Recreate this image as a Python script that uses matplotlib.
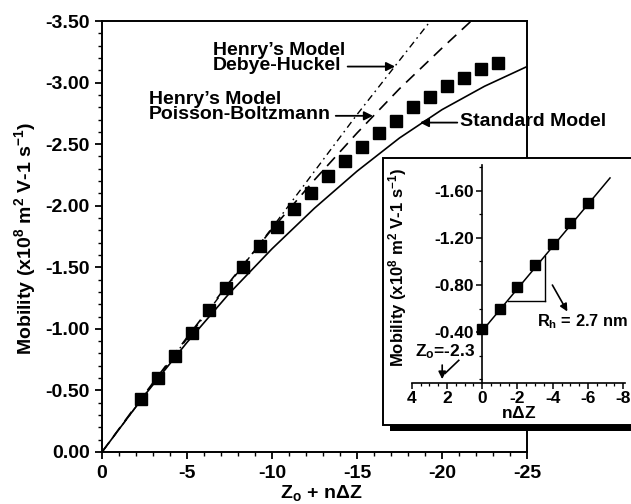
import numpy as np
import matplotlib
matplotlib.use("Agg")
import matplotlib.pyplot as plt
from matplotlib.patches import Rectangle
from matplotlib.ticker import MultipleLocator

plt.rcParams['font.family'] = ['Liberation Sans', 'DejaVu Sans']
plt.rcParams['font.weight'] = 'bold'
plt.rcParams['mathtext.fontset'] = 'custom'
plt.rcParams['mathtext.rm'] = 'Liberation Sans:bold'
plt.rcParams['mathtext.bf'] = 'Liberation Sans:bold'
plt.rcParams['mathtext.default'] = 'rm'

# ---- data ----
charge = [-2.3, -3.3, -4.3, -5.3, -6.3, -7.3, -8.3, -9.3, -10.3, -11.3, -12.3,
          -13.3, -14.3, -15.3, -16.3, -17.3, -18.3, -19.3, -20.3, -21.3, -22.3, -23.3]
mobility = [-0.43, -0.60, -0.78, -0.97, -1.15, -1.33, -1.50, -1.67, -1.83, -1.97, -2.10,
            -2.24, -2.36, -2.48, -2.59, -2.69, -2.80, -2.88, -2.97, -3.04, -3.11, -3.16]

model_x = [0, -2.5, -5, -7.5, -10, -12.5, -15, -17.5, -20, -22.5, -25]
standard_y = [0, -0.46, -0.89, -1.29, -1.65, -1.98, -2.28, -2.55, -2.78, -2.97, -3.13]
pb_y = [0, -0.47, -0.93, -1.38, -1.81, -2.21, -2.59, -2.95, -3.28, -3.60, -3.92]
dh_y = [0, -0.46, -0.92, -1.37, -1.82, -2.28, -2.74, -3.18, -3.62, -4.06, -4.50]

inset_n = [0, -1, -2, -3, -4, -5, -6]
inset_mob = mobility[:7]
fit_n = [0, -7.25]
fit_mob = [-0.41, -1.71]

main_xticks = [0, -5, -10, -15, -20, -25]
main_yticks = [0.0, -0.5, -1.0, -1.5, -2.0, -2.5, -3.0, -3.5]
inset_xticks = [4, 2, 0, -2, -4, -6, -8]
inset_yticks = [-0.4, -0.8, -1.2, -1.6]

W, H = 631, 504
fig = plt.figure(figsize=(W / 100, H / 100), dpi=100)

def fx(px):
    return px / W

def fy(py):
    return 1 - py / H

# ---- main axes ----
ax = fig.add_axes([fx(102), fy(452), fx(527) - fx(102), fy(21) - fy(452)])
ax.set_xlim(0, -25)
ax.set_ylim(0, -3.5)

ax.plot(model_x, standard_y, color='black', lw=1.2, solid_capstyle='butt')
ax.plot(model_x, pb_y, color='black', lw=1.2, dashes=(7, 4.5))
ax.plot(model_x, dh_y, color='black', lw=1.0, dashes=(5, 3, 1.2, 3))
ax.plot(charge, mobility, 's', color='black', ms=8.5, ls='none')

ax.set_xticks(main_xticks)
ax.set_xticklabels([f"{v:g}" for v in main_xticks])
ax.set_yticks(main_yticks)
ax.set_yticklabels([f"{abs(v):.2f}" if v == 0 else f"{v:.2f}" for v in main_yticks])
ax.xaxis.set_minor_locator(MultipleLocator(1))
ax.yaxis.set_minor_locator(MultipleLocator(0.1))
ax.tick_params(which='major', direction='out', length=5, width=1.3, labelsize=14, pad=4)
ax.tick_params(which='minor', direction='out', length=3, width=1.0)
for s in ax.spines.values():
    s.set_linewidth(1.4)
for lab in ax.get_xticklabels() + ax.get_yticklabels():
    lab.set_fontweight('bold')

ax.set_xlabel(r"Z$_\mathregular{o}$ + n$\Delta$Z", fontsize=14, fontweight='bold')
ax.xaxis.set_label_coords((fx(321) - fx(102)) / (fx(527) - fx(102)), (fy(493) - fy(452)) / (fy(21) - fy(452)))
ax.xaxis.label.set_va('center')
ax.set_ylabel(r"Mobility (x10$^{8}$ m$^{2}$ V-1 s$^{-1}$)", fontsize=14, fontweight='bold')
ax.yaxis.set_label_coords((fx(25) - fx(102)) / (fx(527) - fx(102)), (fy(238) - fy(452)) / (fy(21) - fy(452)))
ax.yaxis.label.set_va('center')

arrow_kw = dict(arrowstyle='-|>', color='black', lw=1.3, mutation_scale=13, shrinkA=0, shrinkB=0)

ax.text(-6.53, -3.20, "Henry\u2019s Model\nDebye-Huckel", fontsize=14, fontweight='bold',
        ha='left', va='center', linespacing=0.82)
ax.annotate("", xy=(-17.24, -3.13), xytext=(-14.45, -3.13), arrowprops=arrow_kw)

ax.text(-2.76, -2.80, "Henry\u2019s Model\nPoisson-Boltzmann", fontsize=14, fontweight='bold',
        ha='left', va='center', linespacing=0.82)
ax.annotate("", xy=(-15.94, -2.73), xytext=(-13.75, -2.73), arrowprops=arrow_kw)

ax.text(-21.06, -2.68, "Standard Model", fontsize=14, fontweight='bold',
        ha='left', va='center', clip_on=False)
ax.annotate("", xy=(-18.7, -2.675), xytext=(-20.9, -2.675), arrowprops=arrow_kw)

# ---- inset box with shadow ----
shadow = Rectangle((fx(390), fy(431)), fx(660) - fx(390), fy(419) - fy(431),
                   transform=fig.transFigure, facecolor='black', edgecolor='none', zorder=1)
box = Rectangle((fx(383), fy(425)), fx(660) - fx(383), fy(158) - fy(425),
                transform=fig.transFigure, facecolor='white', edgecolor='black', lw=1.4, zorder=1.5)
fig.patches.extend([shadow, box])

# ---- inset axes ----
ax2 = fig.add_axes([fx(411.7), fy(382.7), fx(625) - fx(411.7), fy(165) - fy(382.7)], zorder=2)
ax2.patch.set_alpha(0)
ax2.set_xlim(4, -8.1)
ax2.set_ylim(0.03, -1.82)
ax2.spines['top'].set_visible(False)
ax2.spines['right'].set_visible(False)
ax2.spines['left'].set_position(('data', 0))
ax2.spines['left'].set_linewidth(1.2)
ax2.spines['bottom'].set_linewidth(1.2)

ax2.plot(fit_n, fit_mob, color='black', lw=1.1)
ax2.plot(inset_n, inset_mob, 's', color='black', ms=7.5, ls='none')

ax2.set_xticks(inset_xticks)
ax2.set_xticklabels([f"{v:g}" for v in inset_xticks])
ax2.set_yticks(inset_yticks)
ax2.set_yticklabels([f"{v:.2f}" for v in inset_yticks])
ax2.xaxis.set_minor_locator(MultipleLocator(0.5))
ax2.yaxis.set_minor_locator(MultipleLocator(0.2))
ax2.tick_params(which='major', direction='out', length=4, width=1.1, labelsize=12.5, pad=2)
ax2.tick_params(which='minor', direction='out', length=2.5, width=0.9)
for lab in ax2.get_xticklabels() + ax2.get_yticklabels():
    lab.set_fontweight('bold')
ax2.set_xlabel(r"n$\Delta$Z", fontsize=12.5, fontweight='bold', labelpad=-1)

fig.text(fx(398), fy(267), r"Mobility (x10$^{8}$ m$^{2}$ V-1 s$^{-1}$)", fontsize=12,
         fontweight='bold', rotation=90, ha='center', va='center', zorder=3)

# slope triangle
ax2.plot([-3.56, -3.56], [-1.05, -0.667], color='black', lw=1.0)
ax2.plot([-1.45, -3.56], [-0.667, -0.667], color='black', lw=1.0)

arrow2 = dict(arrowstyle='-|>', color='black', lw=1.2, mutation_scale=11, shrinkA=0, shrinkB=0)
ax2.annotate("", xy=(-4.83, -0.575), xytext=(-3.98, -0.80), arrowprops=arrow2)
ax2.text(-3.1, -0.49, r"R$_\mathregular{h}$ = 2.7 nm", fontsize=11.8, fontweight='bold',
         ha='left', va='center', clip_on=False)

ax2.text(3.79, -0.235, r"Z$_\mathregular{o}$=-2.3", fontsize=12.5, fontweight='bold',
         ha='left', va='center')
ax2.annotate("", xy=(2.27, 0.0), xytext=(2.27, -0.12), arrowprops=arrow2)
ax2.plot([1.33, 2.1], [-0.16, -0.05], color='black', lw=1.2)

fig.savefig("out.png", dpi=100)
